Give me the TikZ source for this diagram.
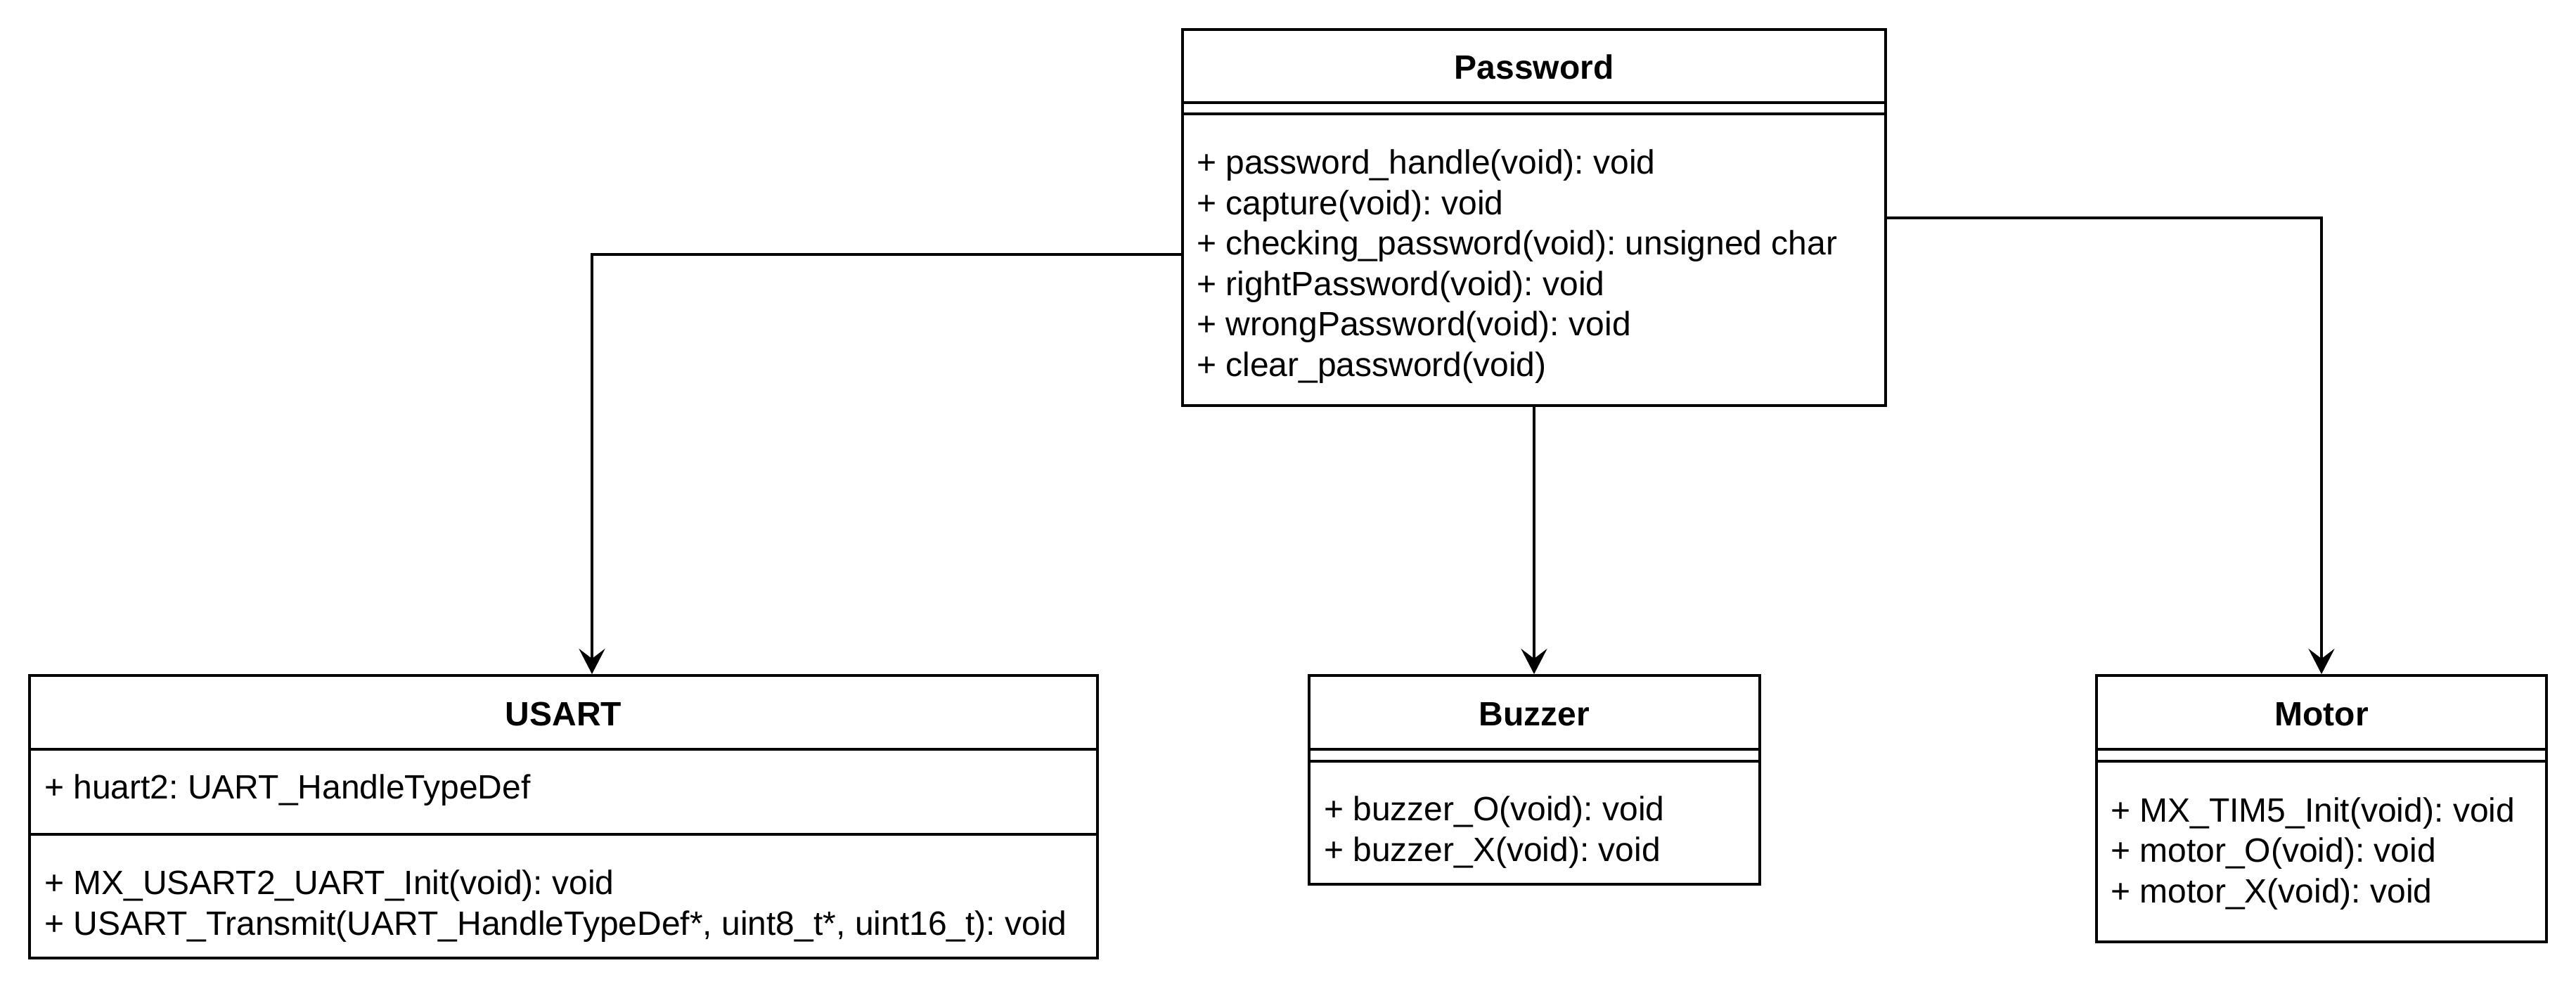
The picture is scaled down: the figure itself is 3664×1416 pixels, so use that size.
\documentclass[tikz,border=0pt]{standalone}
\usepackage{fontspec}
\setmainfont{Liberation Sans}
\usetikzlibrary{arrows.meta}
\begin{document}
\frenchspacing
\begin{tikzpicture}[x=1pt,y=-1pt,
  umlbox/.style={draw, line width=4pt, rectangle, inner sep=0pt},
  divline/.style={line width=4pt},
  titletxt/.style={anchor=base, inner sep=0pt, font=\fontsize{48}{57.5}\selectfont\bfseries\frenchspacing},
  membtxt/.style={anchor=base west, inner sep=0pt, align=left, font=\fontsize{48}{57.5}\selectfont\frenchspacing},
  conn/.style={line width=4pt, -{Stealth[length=36pt, width=37pt, inset=14pt]}}]
\useasboundingbox (0,0) rectangle (3664,1416);
% Password
\node[umlbox, minimum width=1000pt, minimum height=535pt] (pw) at (2182,309.5) {};
\draw[divline] (pw.west |- 0,146) -- (pw.east |- 0,146);
\draw[divline] (pw.west |- 0,162) -- (pw.east |- 0,162);
\node[titletxt] (pwt) at (2182,112) {Password};
\node[membtxt] (pwm) at (1702,535) {+ password\_handle(void): void\\+ capture(void): void\\+ checking\_password(void): unsigned char\\+ rightPassword(void): void\\+ wrongPassword(void): void\\+ clear\_password(void)};
% USART
\node[umlbox, minimum width=1519pt, minimum height=402pt] (us) at (801.5,1162) {};
\draw[divline] (us.west |- 0,1066) -- (us.east |- 0,1066);
\draw[divline] (us.west |- 0,1187) -- (us.east |- 0,1187);
\node[titletxt] (ust) at (801.5,1032) {USART};
\node[membtxt] (usa) at (63,1136) {+ huart2: UART\_HandleTypeDef};
\node[membtxt] (usm) at (63,1330) {+ MX\_USART2\_UART\_Init(void): void\\+ USART\_Transmit(UART\_HandleTypeDef*, uint8\_t*, uint16\_t): void};
% Buzzer
\node[umlbox, minimum width=641pt, minimum height=297pt] (bz) at (2182,1109.5) {};
\draw[divline] (bz.west |- 0,1066) -- (bz.east |- 0,1066);
\draw[divline] (bz.west |- 0,1083) -- (bz.east |- 0,1083);
\node[titletxt] (bzt) at (2182,1032) {Buzzer};
\node[membtxt] (bzm) at (1883,1225) {+ buzzer\_O(void): void\\+ buzzer\_X(void): void};
% Motor
\node[umlbox, minimum width=640pt, minimum height=379pt] (mo) at (3302,1150.5) {};
\draw[divline] (mo.west |- 0,1066) -- (mo.east |- 0,1066);
\draw[divline] (mo.west |- 0,1083) -- (mo.east |- 0,1083);
\node[titletxt] (mot) at (3302,1032) {Motor};
\node[membtxt] (mom) at (3002,1284) {+ MX\_TIM5\_Init(void): void\\+ motor\_O(void): void\\+ motor\_X(void): void};
% connectors
\draw[conn] ([yshift=-52.5pt]pw.west) -| ([xshift=40.5pt]us.north);
\draw[conn] (pw.south) -- (bz.north);
\draw[conn] (pw.east) -| (mo.north);
\end{tikzpicture}
\end{document}
